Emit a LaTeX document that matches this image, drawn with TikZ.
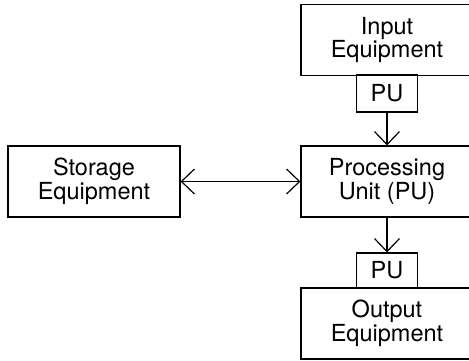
\documentclass[tikz,border=0pt]{standalone}
\usepackage{fontspec}
\setmainfont{TeX Gyre Heros}
\usetikzlibrary{arrows.meta}
\begin{document}
\begin{tikzpicture}[x=1pt,y=-1pt,
  box/.style={draw, line width=1.2pt, inner sep=0pt, align=center,
    font=\fontsize{23.5}{23.5}\selectfont},
  bigbox/.style={box, minimum width=172pt, minimum height=71pt},
  pubox/.style={box, minimum width=61pt, minimum height=36pt},
  conn/.style={line width=1.2pt, arrows={-Straight Barb[length=13pt,width=25pt,line width=1.2pt]}},
  dconn/.style={line width=1.2pt, arrows={Straight Barb[length=13pt,width=25pt,line width=1.2pt]-Straight Barb[length=13pt,width=25pt,line width=1.2pt]}}]
\useasboundingbox (0,0) rectangle (469,360);
\clip (0,0) rectangle (469,360);
\node[bigbox] (inp) at (387,40) {Input\\Equipment};
\node[pubox, minimum height=37pt] (pu1) at (387,93.5) {PU};
\node[bigbox] (proc) at (387,181.5) {Processing\\Unit (PU)};
\node[bigbox] (sto) at (94,181.5) {Storage\\Equipment};
\node[pubox, minimum height=35pt] (pu2) at (387,270.5) {PU};
\node[bigbox] (out) at (387,323.5) {Output\\Equipment};
\draw[conn] (pu1.south) -- (proc.north);
\draw[conn] (proc.south) -- (pu2.north);
\draw[dconn] (sto.east) -- (proc.west);
\end{tikzpicture}
\end{document}
